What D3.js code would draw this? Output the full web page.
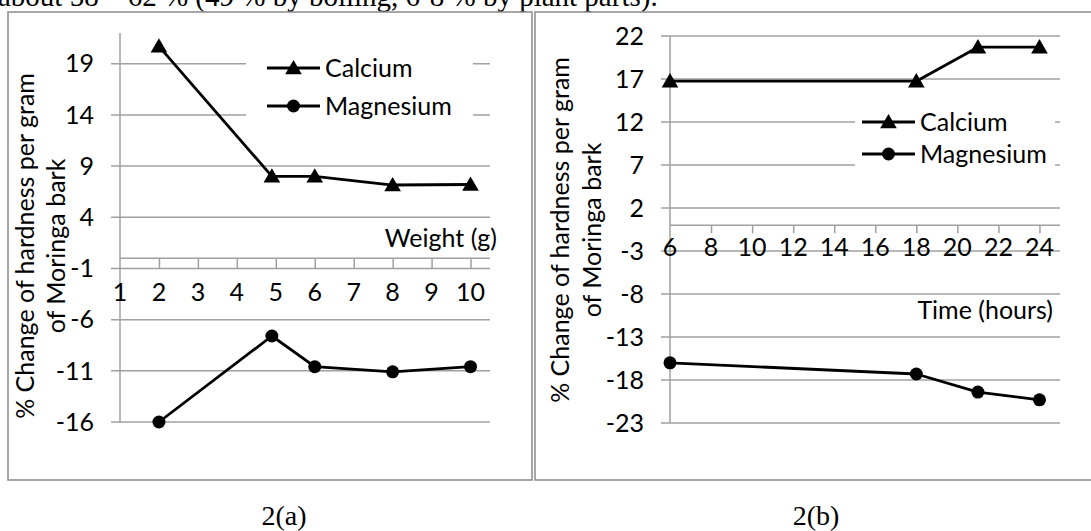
<!DOCTYPE html>
<html>
<head>
<meta charset="utf-8">
<script src="https://cdn.jsdelivr.net/npm/d3@7"></script>
<style>
  html, body { margin: 0; padding: 0; background: #fff; overflow: hidden; }
  svg { display: block; }
</style>
</head>
<body>
<script>
// figure 2(a): hardness change vs Moringa bark weight
const weightX = [2, 4.9, 6, 8, 10];
const weightCalcium = [20.7, 8.0, 8.0, 7.15, 7.2];
const weightMagnesium = [-16, -7.6, -10.6, -11.1, -10.6];
const weightXTicks = [1, 2, 3, 4, 5, 6, 7, 8, 9, 10];
const weightYTicks = [-16, -11, -6, -1, 4, 9, 14, 19];

// figure 2(b): hardness change vs contact time
const timeX = [6, 18, 21, 24];
const timeCalcium = [16.75, 16.75, 20.7, 20.7];
const timeMagnesium = [-16.0, -17.3, -19.4, -20.3];
const timeXTicks = [6, 8, 10, 12, 14, 16, 18, 20, 22, 24];
const timeYTicks = [-23, -18, -13, -8, -3, 2, 7, 12, 17, 22];

const seriesNames = ["Calcium", "Magnesium"];
const yTitle = ["% Change of hardness per gram", "of Moringa bark"];
const topLine = "about 58 \u2013 62 % (49 % by boiling, 6-8 % by plant parts).";

const width = 1091, height = 531;
const font = "Lato, 'Open Sans', sans-serif";
const gridColor = "#a0a0a0";

const svg = d3.select("body").append("svg")
    .attr("width", width)
    .attr("height", height);

// the cropped running text above the figure
svg.append("text")
    .attr("x", -2)
    .attr("y", 6)
    .attr("font-family", "'Liberation Serif', 'Times New Roman', serif")
    .attr("font-size", 29)
    .text(topLine);

function drawPanel(cfg) {
    const g = svg.append("g");

    // chart frame
    g.append("rect")
        .attr("x", cfg.frame[0]).attr("y", cfg.frame[1])
        .attr("width", cfg.frame[2] - cfg.frame[0])
        .attr("height", cfg.frame[3] - cfg.frame[1])
        .attr("fill", "#fff")
        .attr("stroke", "#8a8a8a")
        .attr("stroke-width", 1.5);

    const x = d3.scaleLinear().domain(cfg.xDomain).range(cfg.xRange);
    const y = d3.scaleLinear().domain(cfg.yDomain).range(cfg.yRange);

    // horizontal gridlines with outside ticks
    g.append("g")
        .selectAll("line")
        .data(cfg.yTicks)
        .join("line")
        .attr("x1", cfg.xRange[0] - 9)
        .attr("x2", cfg.xRange[1])
        .attr("y1", d => y(d)).attr("y2", d => y(d))
        .attr("stroke", gridColor)
        .attr("stroke-width", 1.5);

    // vertical axis
    g.append("line")
        .attr("x1", cfg.xRange[0]).attr("x2", cfg.xRange[0])
        .attr("y1", cfg.yRange[1]).attr("y2", cfg.yRange[0])
        .attr("stroke", gridColor)
        .attr("stroke-width", 1.5);

    // horizontal axis crossing at zero, ticks hanging below
    const xAxis = d3.axisBottom(x)
        .tickValues(cfg.xTicks.filter(t => t !== cfg.xDomain[0]))
        .tickSize(cfg.tickLen)
        .tickFormat("");
    const ax = g.append("g")
        .attr("transform", `translate(0,${y(0)})`)
        .call(xAxis);
    ax.select(".domain").attr("stroke", gridColor).attr("stroke-width", 1.5)
        .attr("d", `M${cfg.xRange[0]},0H${cfg.xRange[1]}`);
    ax.selectAll(".tick line").attr("stroke", gridColor).attr("stroke-width", 1.5);

    // y tick labels
    g.append("g")
        .selectAll("text")
        .data(cfg.yTicks)
        .join("text")
        .attr("x", cfg.yLabelX)
        .attr("y", d => y(d))
        .attr("dy", "0.35em")
        .attr("text-anchor", "end")
        .attr("font-family", font)
        .attr("font-size", cfg.fontSize)
        .text(d => d);

    // x tick labels
    g.append("g")
        .selectAll("text")
        .data(cfg.xTicks)
        .join("text")
        .attr("x", d => x(d))
        .attr("y", cfg.xLabelY)
        .attr("text-anchor", "middle")
        .attr("font-family", font)
        .attr("font-size", cfg.fontSize)
        .text(d => d);

    // x axis title
    g.append("text")
        .attr("x", cfg.xTitle[0])
        .attr("y", cfg.xTitle[1])
        .attr("text-anchor", "end")
        .attr("font-family", font)
        .attr("font-size", cfg.fontSize)
        .text(cfg.xTitleText);

    // y axis title, two lines
    yTitle.forEach((t, i) => {
        g.append("text")
            .attr("transform", `translate(${cfg.yTitleX[i]},${cfg.yTitleY}) rotate(-90)`)
            .attr("text-anchor", "middle")
            .attr("font-family", font)
            .attr("font-size", cfg.fontSize)
            .text(t);
    });

    // legend (white box hides the gridlines behind it)
    const lg = cfg.legend;
    g.append("rect")
        .attr("x", lg.box[0]).attr("y", lg.box[1])
        .attr("width", lg.box[2] - lg.box[0])
        .attr("height", lg.box[3] - lg.box[1])
        .attr("fill", "#fff");

    const tri = d3.symbol(d3.symbolTriangle, 120);
    const line = d3.line().x(d => x(d[0])).y(d => y(d[1]));

    const series = [
        { name: seriesNames[0], values: cfg.calcium, shape: "tri" },
        { name: seriesNames[1], values: cfg.magnesium, shape: "dot" }
    ];

    series.forEach((s, i) => {
        const pts = cfg.xs.map((v, j) => [v, s.values[j]]);
        g.append("path")
            .attr("d", line(pts))
            .attr("fill", "none")
            .attr("stroke", "#000")
            .attr("stroke-width", 2.8)
            .attr("stroke-linejoin", "round");
        const m = g.append("g").selectAll("g").data(pts).join("g")
            .attr("transform", d => `translate(${x(d[0])},${y(d[1])})`);
        if (s.shape === "tri") {
            m.append("path").attr("d", tri).attr("transform", "translate(0,1.5)").attr("fill", "#000");
        } else {
            m.append("circle").attr("r", 6.5).attr("fill", "#000");
        }

        // legend entry
        const ly = lg.rows[i];
        g.append("line")
            .attr("x1", lg.lineX[0]).attr("x2", lg.lineX[1])
            .attr("y1", ly).attr("y2", ly)
            .attr("stroke", "#000").attr("stroke-width", 2.8);
        const cx = (lg.lineX[0] + lg.lineX[1]) / 2;
        if (s.shape === "tri") {
            g.append("path").attr("d", tri)
                .attr("transform", `translate(${cx},${ly + 1.5})`).attr("fill", "#000");
        } else {
            g.append("circle").attr("cx", cx).attr("cy", ly).attr("r", 6.5).attr("fill", "#000");
        }
        g.append("text")
            .attr("x", lg.textX)
            .attr("y", ly)
            .attr("dy", "0.35em")
            .attr("font-family", font)
            .attr("font-size", cfg.fontSize)
            .text(s.name);
    });

    // caption under the panel
    svg.append("text")
        .attr("x", cfg.caption[0])
        .attr("y", cfg.caption[1])
        .attr("text-anchor", "middle")
        .attr("font-family", "'Liberation Serif', 'Times New Roman', serif")
        .attr("font-size", 28)
        .text(cfg.captionText);
}

drawPanel({
    frame: [8, 12, 532, 480],
    xDomain: [1, 10.5], xRange: [120, 490],
    yDomain: [-16, 22], yRange: [422, 33],
    xTicks: weightXTicks, yTicks: weightYTicks,
    xs: weightX, calcium: weightCalcium, magnesium: weightMagnesium,
    tickLen: 10, fontSize: 25,
    yLabelX: 94, xLabelY: 301,
    xTitle: [497, 247], xTitleText: "Weight (g)",
    yTitleX: [34, 65], yTitleY: 246,
    legend: { box: [246, 44, 473, 132], rows: [68, 106], lineX: [267, 320], textX: 325 },
    caption: [284, 525], captionText: "2(a)"
});

drawPanel({
    frame: [535, 12, 1100, 480],
    xDomain: [6, 25], xRange: [670, 1060],
    yDomain: [-23, 22], yRange: [423, 36],
    xTicks: timeXTicks, yTicks: timeYTicks,
    xs: timeX, calcium: timeCalcium, magnesium: timeMagnesium,
    tickLen: 8, fontSize: 25,
    yLabelX: 644, xLabelY: 256,
    xTitle: [1053, 319], xTitleText: "Time (hours)",
    yTitleX: [569, 601], yTitleY: 230,
    legend: { box: [855, 102, 1055, 176], rows: [122, 154], lineX: [862, 915], textX: 920 },
    caption: [816, 525], captionText: "2(b)"
});
</script>
</body>
</html>
